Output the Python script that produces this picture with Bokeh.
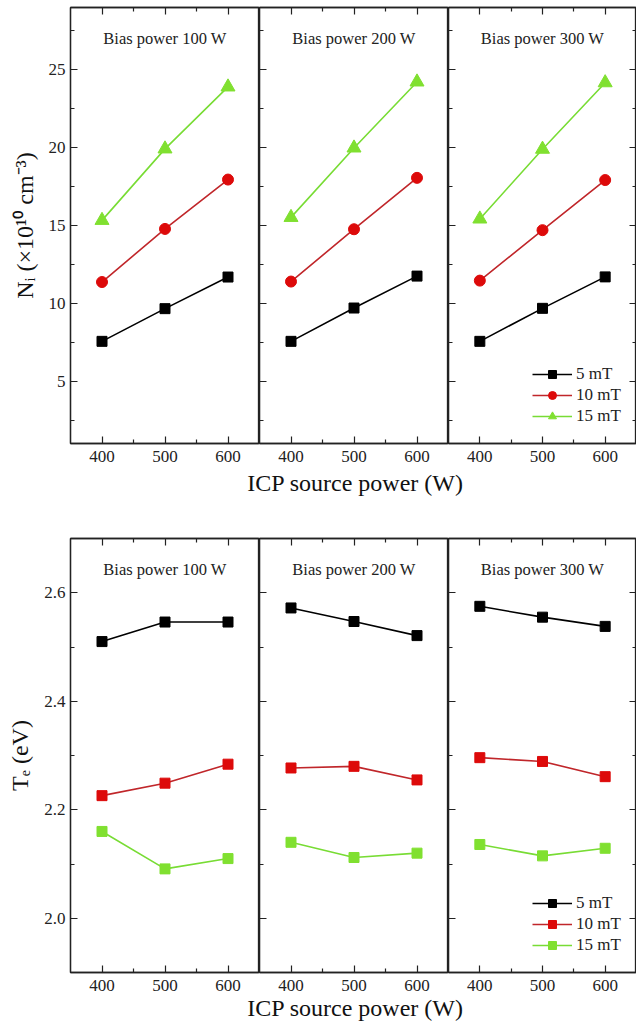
from bokeh.plotting import figure
from bokeh.models import (Range1d, LinearAxis, FixedTicker, CustomJSTickFormatter,
                          PrintfTickFormatter, Legend, LegendItem, Label)
from bokeh.layouts import column, row
from bokeh.embed import file_html
from bokeh.resources import INLINE

# ---------------- data ----------------
icp_power = [400, 500, 600]
bias_labels = ["Bias power 100 W", "Bias power 200 W", "Bias power 300 W"]
field_labels = ["5 mT", "10 mT", "15 mT"]

# (a) ion density Ni (x10^10 cm^-3), per bias power
ni_5mT = [[7.56, 9.66, 11.69], [7.56, 9.70, 11.75], [7.56, 9.68, 11.70]]
ni_10mT = [[11.37, 14.78, 17.95], [11.40, 14.76, 18.06], [11.46, 14.70, 17.92]]
ni_15mT = [[15.33, 19.92, 23.90], [15.52, 19.98, 24.22], [15.42, 19.90, 24.17]]

# (b) electron temperature Te (eV), per bias power
te_5mT = [[2.510, 2.546, 2.546], [2.572, 2.547, 2.521], [2.575, 2.555, 2.538]]
te_10mT = [[2.226, 2.249, 2.284], [2.277, 2.280, 2.255], [2.296, 2.289, 2.261]]
te_15mT = [[2.160, 2.091, 2.110], [2.140, 2.112, 2.120], [2.136, 2.115, 2.129]]

x_ticks = [400, 500, 600]
x_minor = [450, 550]
ni_ticks = [5, 10, 15, 20, 25]
te_ticks = [2.0, 2.2, 2.4, 2.6]

FONT = "'Liberation Serif', 'Times New Roman', serif"
BLACK = "#000000"
RED_FILL, RED_LINE = "#dd0a0a", "#c0262a"
GREEN_FILL, GREEN_LINE = "#80e030", "#78dc34"

LEFT = 70
FRAME_W = [189, 189, 188]
TOTAL_W = LEFT + sum(FRAME_W)


def style_axis(ax, ticks, minor, labels=True, size="17px"):
    ax.ticker = FixedTicker(ticks=ticks, minor_ticks=minor)
    ax.major_tick_in = 7
    ax.major_tick_out = 0
    ax.minor_tick_in = 4
    ax.minor_tick_out = 0
    ax.axis_line_color = "#222222"
    ax.axis_line_width = 1.3
    ax.major_tick_line_width = 1.2
    ax.minor_tick_line_width = 1.2
    ax.major_tick_line_color = "#222222"
    ax.minor_tick_line_color = "#222222"
    ax.major_label_text_font = FONT
    ax.major_label_text_font_size = size
    ax.major_label_text_color = "#222222"
    ax.axis_label_text_font = FONT
    ax.axis_label_text_font_style = "normal"
    ax.axis_label_text_font_size = "24px"
    ax.axis_label_text_color = "#111111"
    if not labels:
        ax.formatter = CustomJSTickFormatter(code="return ''")
        ax.major_label_standoff = 0


def make_panel(series, yrange, yticks, yminor, yfmt, ylabel, markers, panel_tag,
               top_border, bottom_border, frame_h):
    figs = []
    for k in range(3):
        left = LEFT if k == 0 else 0
        p = figure(frame_width=FRAME_W[k], frame_height=frame_h,
                   x_range=Range1d(350, 650), y_range=Range1d(*yrange),
                   output_backend="svg", toolbar_location=None,
                   x_axis_location=None, y_axis_location=None,
                   min_border_left=left, min_border_right=0,
                   min_border_top=top_border, min_border_bottom=bottom_border)
        p.grid.visible = False
        p.outline_line_color = "#222222"
        p.outline_line_width = 1.3
        p.background_fill_color = "white"
        p.border_fill_color = "white"

        yl = LinearAxis()
        style_axis(yl, yticks, yminor, labels=(k == 0))
        if k == 0:
            yl.formatter = yfmt
            yl.axis_label = ylabel
            yl.major_label_standoff = 5
            yl.axis_label_standoff = 8
        p.add_layout(yl, "left")
        xb = LinearAxis()
        style_axis(xb, x_ticks, x_minor)
        xb.major_label_standoff = 7
        p.add_layout(xb, "below")
        xt = LinearAxis()
        style_axis(xt, x_ticks, x_minor, labels=False)
        p.add_layout(xt, "above")
        if k == 2:
            yr = LinearAxis()
            style_axis(yr, yticks, yminor, labels=False)
            p.add_layout(yr, "right")

        items = []
        for (vals, lc, fc, mk, ms), name in zip(
                [(series[0], BLACK, BLACK, markers[0], 10),
                 (series[1], RED_LINE, RED_FILL, markers[1], 11 if markers[1] == "circle" else 10),
                 (series[2], GREEN_LINE, GREEN_FILL, markers[2], 14 if markers[2] == "triangle" else 10)],
                field_labels):
            ln = p.line(icp_power, vals[k], line_color=lc, line_width=1.6)
            sc = p.scatter(icp_power, vals[k], marker=mk, size=ms,
                           fill_color=fc, line_color=fc, line_width=1)
            items.append(LegendItem(label=name, renderers=[ln, sc]))

        p.add_layout(Label(x=FRAME_W[k] / 2, y=frame_h - 31, x_units="screen",
                           y_units="screen", text=bias_labels[k],
                           text_font=FONT, text_font_size="16.5px",
                           text_align="center", text_baseline="middle",
                           text_color="#222222"))

        if k == 2:
            lg = Legend(items=items, location=(84, 17), padding=0, margin=0,
                        spacing=1, glyph_width=40, glyph_height=20,
                        label_height=20, label_standoff=4,
                        label_text_font=FONT, label_text_font_size="17px",
                        label_text_color="#222222",
                        border_line_color=None, background_fill_alpha=0)
            p.add_layout(lg, "center")
        if k == 0:
            p.add_layout(Label(x=-63, y=frame_h - 18, x_units="screen",
                               y_units="screen", text=panel_tag,
                               text_font=FONT, text_font_style="bold",
                               text_font_size="29px", text_align="left",
                               text_baseline="middle", text_color="#111111"))
        figs.append(p)
    return row(*figs, spacing=0)


def title_strip(height, center_y, top_margin=0):
    t = figure(width=TOTAL_W, height=height, x_range=Range1d(0, 1),
               y_range=Range1d(0, 1), output_backend="svg",
               toolbar_location=None, x_axis_location=None,
               y_axis_location=None, min_border=0)
    t.grid.visible = False
    t.outline_line_color = None
    t.background_fill_alpha = 0
    t.border_fill_alpha = 0
    if top_margin:
        t.margin = (top_margin, 0, 0, 0)
    t.add_layout(Label(x=355, y=height - center_y, x_units="screen",
                       y_units="screen", text="ICP source power (W)",
                       text_font=FONT, text_font_size="24px",
                       text_align="center", text_baseline="middle",
                       text_color="#111111"))
    return t


row_a = make_panel([ni_5mT, ni_10mT, ni_15mT], (1, 29), ni_ticks,
                   [2.5, 7.5, 12.5, 17.5, 22.5, 27.5],
                   PrintfTickFormatter(format="%d"),
                   "N\u1d62 (\u00d710\u00b9\u2070 cm\u207b\u00b3)",
                   ["square", "circle", "triangle"], "(a)",
                   top_border=7, bottom_border=27, frame_h=436)
title_a = title_strip(26, 12)
row_b = make_panel([te_5mT, te_10mT, te_15mT], (1.9, 2.7), te_ticks,
                   [1.9, 2.1, 2.3, 2.5, 2.7],
                   PrintfTickFormatter(format="%.1f"),
                   "T\u2091 (eV)",
                   ["square", "square", "square"], "(b)",
                   top_border=42, bottom_border=27, frame_h=434)
title_b = title_strip(28, 14, top_margin=-6)

layout = column(row_a, title_a, row_b, title_b, spacing=0)
html = file_html(layout, INLINE)
open("out.html", "w").write(html)
